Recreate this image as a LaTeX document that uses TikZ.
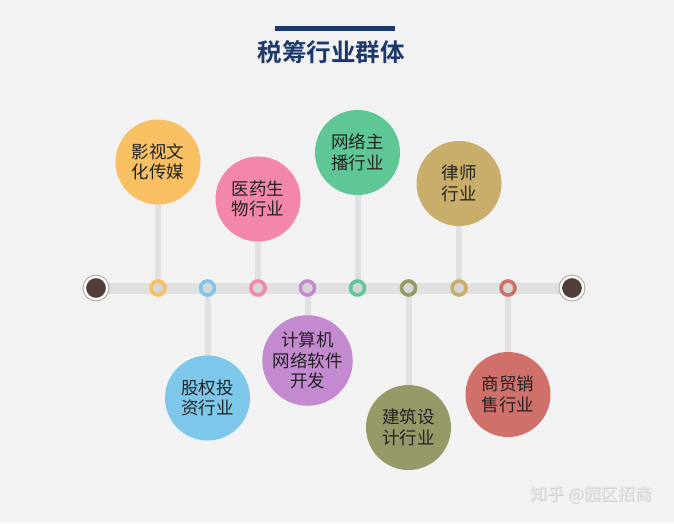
\documentclass[tikz,border=0pt]{standalone}
\usepackage{fontspec}
\newfontfamily\cjk{Noto Sans CJK SC}
\newfontfamily\cjkb{Noto Sans CJK SC Bold}
\definecolor{bg}{HTML}{F2F2F2}
\definecolor{navy}{HTML}{1B3A6B}
\definecolor{bar}{HTML}{E0E0E0}
\definecolor{inner}{HTML}{D6D6D6}
\definecolor{endc}{HTML}{4E4038}
\definecolor{cOrange}{HTML}{F9BF63}
\definecolor{cBlue}{HTML}{7DC8EA}
\definecolor{cPink}{HTML}{F387A9}
\definecolor{cPurple}{HTML}{C48AD0}
\definecolor{cGreen}{HTML}{5FC796}
\definecolor{cOlive}{HTML}{979867}
\definecolor{cGold}{HTML}{C8AE6A}
\definecolor{cRed}{HTML}{D0706B}
\definecolor{txt}{HTML}{222222}
\definecolor{wmc}{HTML}{E4E4E4}
\tikzset{
  big/.style={circle,fill=#1,minimum size=85pt,inner sep=0pt,align=center,
    font=\cjk\fontsize{17.5}{20.5}\selectfont,text=txt},
  dot/.style={circle,draw=#1,line width=3.6pt,fill=inner,minimum size=14pt,inner sep=0pt},
  endpt/.style={circle,fill=endc,draw=white,line width=2pt,minimum size=22pt,inner sep=0pt},
  stem/.style={draw=bar,line width=6pt},
}
\begin{document}
\begin{tikzpicture}[x=1pt,y=-1pt]
\fill[bg] (0,0) rectangle (674,523);
\useasboundingbox (0,0) rectangle (674,523);
% title
\fill[navy] (275,26) rectangle (395,30.5);
\node[font=\cjkb\fontsize{24.5}{26}\selectfont,text=navy] (title) at (331,52) {税筹行业群体};
% timeline
\coordinate (L) at (96,288);
\coordinate (R) at (572,288);
\draw[bar,line width=11pt] (L) -- (R);
% dots positions
\coordinate (p1) at (158,288);
\coordinate (p2) at (207.5,288);
\coordinate (p3) at (258,288);
\coordinate (p4) at (307.5,288);
\coordinate (p5) at (357.5,288);
\coordinate (p6) at (408.5,288);
\coordinate (p7) at (459,288);
\coordinate (p8) at (508,288);
% big circle centres
\coordinate (c1) at (158,162);
\coordinate (c2) at (207.5,398);
\coordinate (c3) at (258,199);
\coordinate (c4) at (307.5,360.5);
\coordinate (c5) at (357.5,152.5);
\coordinate (c6) at (408.5,427.5);
\coordinate (c7) at (459,183.5);
\coordinate (c8) at (508,394.5);
% stems
\foreach \i in {1,...,8} {\draw[stem] (p\i) -- (c\i);}
% big circles
\node[big=cOrange] (b1) at (c1) {影视文\\化传媒};
\node[big=cBlue]   (b2) at (c2) {股权投\\资行业};
\node[big=cPink]   (b3) at (c3) {医药生\\物行业};
\node[big=cPurple] (b4) at (c4) {计算机\\网络软件\\开发};
\node[big=cGreen]  (b5) at (c5) {网络主\\播行业};
\node[big=cOlive]  (b6) at (c6) {建筑设\\计行业};
\node[big=cGold]   (b7) at (c7) {律师\\行业};
\node[big=cRed]    (b8) at (c8) {商贸销\\售行业};
% dots
\node[dot=cOrange] (d1) at (p1) {};
\node[dot=cBlue]   (d2) at (p2) {};
\node[dot=cPink]   (d3) at (p3) {};
\node[dot=cPurple] (d4) at (p4) {};
\node[dot=cGreen]  (d5) at (p5) {};
\node[dot=cOlive]  (d6) at (p6) {};
\node[dot=cGold]   (d7) at (p7) {};
\node[dot=cRed]    (d8) at (p8) {};
% end points
\node[endpt] (e1) at (L) {};
\node[endpt] (e2) at (R) {};
\draw[gray!60,line width=1pt] (e1) circle (13pt);
\draw[gray!60,line width=1pt] (e2) circle (13pt);
% watermark
\node[font=\cjk\fontsize{17}{20}\selectfont,text=gray!35] at (592,496) {知乎 @园区招商};
\node[font=\cjk\fontsize{17}{20}\selectfont,text=wmc] (wm) at (591,495) {知乎 @园区招商};
\end{tikzpicture}
\end{document}
